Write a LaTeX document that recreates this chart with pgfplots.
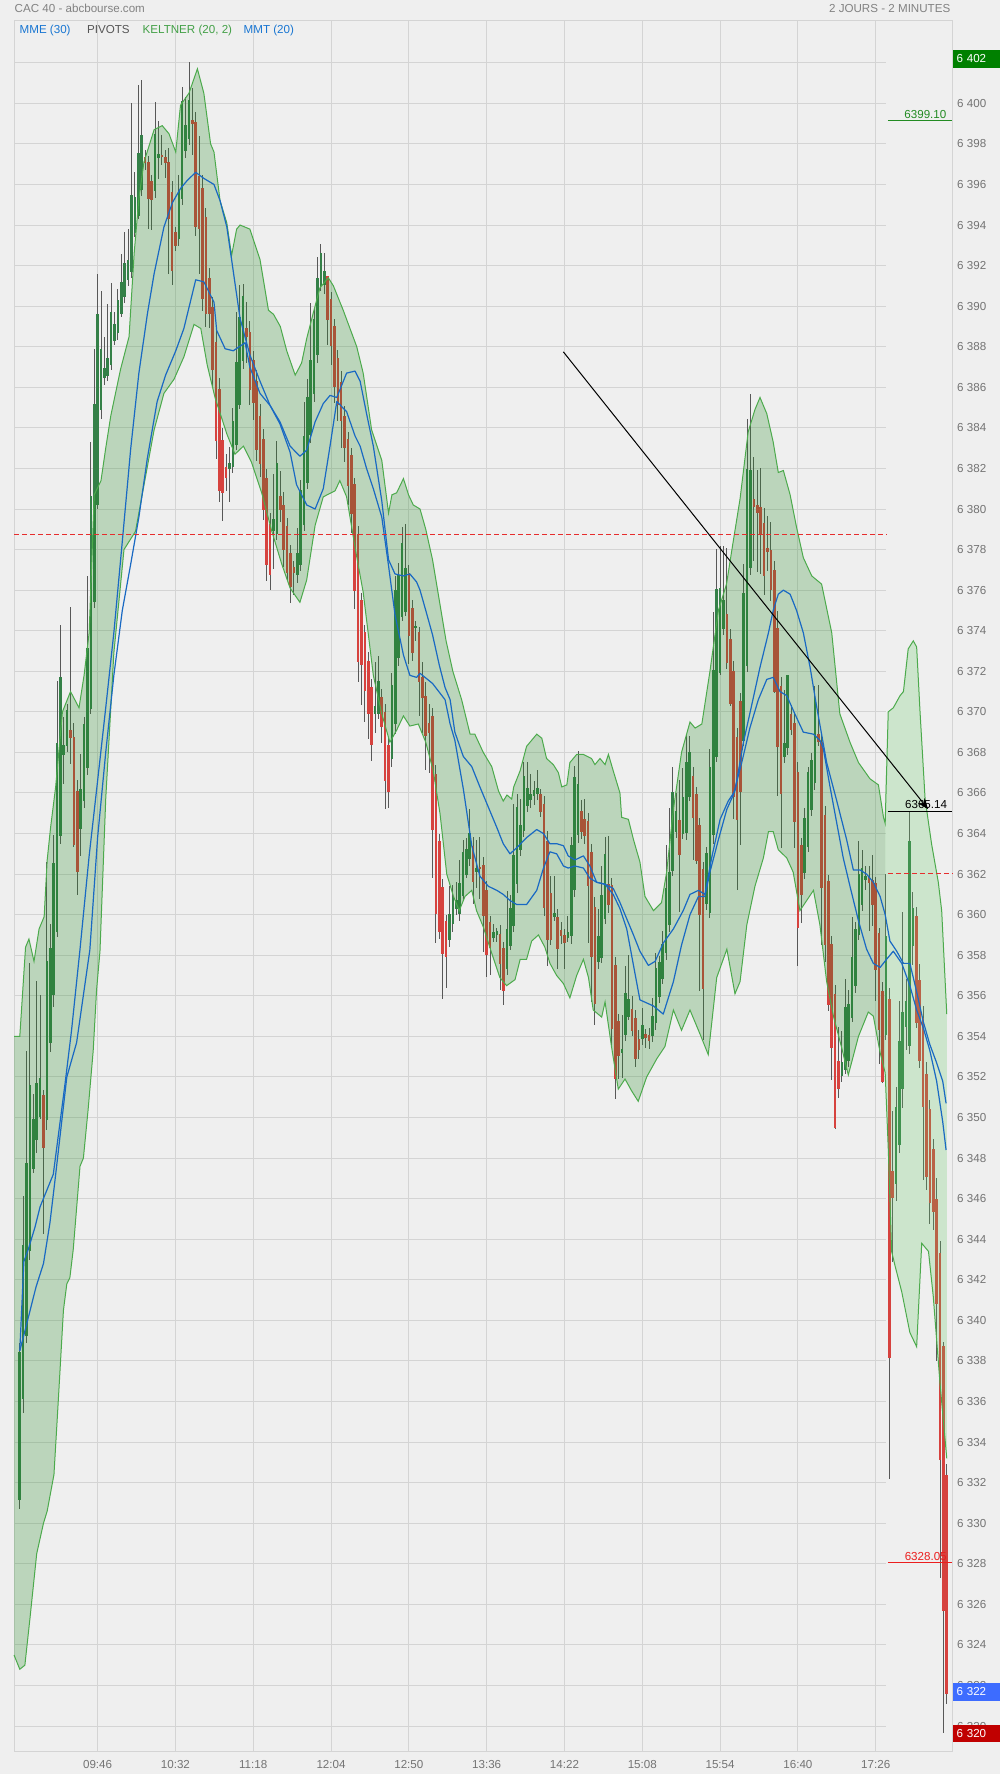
\documentclass[border=0pt]{standalone}
\usepackage{fontspec}
\setmainfont{Liberation Sans}
\usepackage{pgfplots}
\pgfplotsset{compat=1.18}
\usepackage{pgfplotstable}
\usetikzlibrary{arrows.meta}

\definecolor{bg}{RGB}{239,239,239}
\definecolor{gridc}{RGB}{212,212,212}
\definecolor{upc}{RGB}{52,128,72}
\definecolor{dnc}{RGB}{214,66,62}
\definecolor{wickc}{RGB}{88,88,88}
\definecolor{bandc}{RGB}{39,139,39}
\definecolor{bandtwo}{RGB}{100,200,100}
\definecolor{bandline}{RGB}{76,170,76}
\definecolor{mablue}{RGB}{25,105,195}
\definecolor{pivred}{RGB}{230,45,45}
\definecolor{txtgray}{RGB}{115,115,115}
\definecolor{hdrgray}{RGB}{130,130,130}
\definecolor{lblue}{RGB}{25,118,210}
\definecolor{lgreen}{RGB}{67,160,71}
\definecolor{pivgray}{RGB}{85,85,85}
\definecolor{boxgreen}{RGB}{0,128,0}
\definecolor{boxblue}{RGB}{61,108,255}
\definecolor{boxred}{RGB}{192,0,0}
\definecolor{lblgreen}{RGB}{34,139,34}
\definecolor{lblred}{RGB}{235,30,30}

\newcommand{\fs}{\fontsize{5.8pt}{7pt}\selectfont}

\pgfplotstableread{
i o h l c
0 6331.2 6339.0 6330.8 6338.5
1 6336.1 6346.2 6335.5 6343.7
2 6339.3 6353.4 6339.0 6347.8
3 6343.5 6357.6 6343.0 6351.7
4 6347.6 6351.2 6347.3 6350.1
5 6348.9 6356.9 6348.4 6351.7
6 6350.2 6356.1 6350.0 6352.1
8 6349.9 6362.7 6349.5 6357.7
9 6353.7 6359.5 6353.2 6358.4
10 6356.0 6364.0 6355.5 6362.5
11 6359.3 6371.6 6359.0 6368.6
12 6364.0 6374.3 6363.5 6371.8
13 6368.0 6369.8 6366.5 6368.5
14 6368.4 6370.4 6368.0 6370.2
18 6364.3 6368.0 6363.0 6366.3
19 6365.6 6369.8 6365.3 6369.4
20 6367.3 6376.8 6367.0 6373.2
21 6370.2 6383.4 6370.0 6380.7
22 6375.5 6388.0 6375.2 6385.3
23 6380.2 6391.6 6380.0 6389.6
24 6385.0 6390.9 6384.6 6388.0
25 6386.5 6388.6 6386.2 6387.0
26 6386.7 6390.2 6386.4 6387.6
27 6387.2 6391.3 6387.0 6389.8
28 6388.4 6389.8 6388.2 6389.2
29 6388.8 6391.0 6388.5 6390.4
30 6389.7 6392.6 6389.5 6391.3
31 6390.5 6393.8 6390.3 6392.2
32 6391.3 6393.8 6391.0 6392.3
33 6391.7 6400.1 6391.5 6395.5
34 6393.7 6396.7 6393.5 6395.5
35 6394.6 6400.9 6394.3 6397.7
36 6395.8 6401.2 6395.5 6398.5
40 6395.8 6400.2 6395.5 6398.6
41 6397.3 6399.2 6396.3 6397.5
47 6393.4 6396.5 6393.0 6395.8
48 6395.4 6400.8 6395.0 6400.2
49 6397.7 6400.3 6397.3 6399.0
50 6398.4 6402.1 6398.0 6400.3
62 6382.0 6383.1 6380.4 6382.3
63 6382.2 6385.0 6381.8 6384.5
64 6383.2 6389.7 6382.9 6387.3
65 6385.3 6391.1 6385.0 6389.6
66 6387.4 6391.2 6387.0 6390.6
75 6379.0 6381.8 6377.1 6379.6
76 6378.8 6383.4 6378.5 6382.3
82 6376.8 6379.2 6376.5 6377.9
83 6377.3 6381.5 6377.0 6381.0
84 6379.2 6385.4 6379.0 6383.6
85 6381.4 6386.4 6381.0 6385.6
86 6383.7 6390.3 6383.4 6387.4
87 6385.7 6390.0 6385.4 6389.4
88 6387.6 6392.5 6387.3 6391.4
89 6391.1 6393.1 6390.8 6392.7
90 6391.2 6392.6 6390.6 6391.9
105 6370.0 6372.5 6369.0 6370.4
106 6370.0 6372.8 6369.7 6371.6
110 6367.8 6372.0 6367.4 6371.4
111 6369.4 6376.8 6369.0 6376.0
112 6372.7 6377.5 6372.4 6376.8
113 6374.8 6379.1 6374.5 6378.4
114 6375.0 6379.2 6374.7 6377.2
117 6374.2 6374.6 6373.6 6374.3
127 6358.8 6361.4 6358.4 6360.1
128 6359.6 6361.6 6359.3 6360.9
129 6360.4 6361.6 6360.0 6360.8
130 6360.1 6362.8 6359.8 6361.6
131 6361.0 6363.7 6360.7 6363.2
132 6362.1 6363.8 6361.8 6363.4
133 6362.8 6365.3 6362.5 6364.1
135 6362.2 6363.8 6361.4 6362.4
140 6358.9 6359.6 6358.7 6359.2
141 6359.0 6359.4 6358.7 6359.2
144 6357.4 6361.2 6357.1 6359.4
145 6358.6 6361.0 6358.3 6360.5
146 6359.5 6365.5 6359.2 6363.0
147 6361.5 6366.1 6361.2 6365.3
148 6363.3 6365.8 6363.0 6364.5
149 6364.2 6367.6 6363.9 6366.9
150 6365.4 6367.6 6365.1 6366.3
151 6365.8 6367.1 6365.4 6366.1
152 6365.9 6366.7 6365.5 6366.2
153 6366.0 6367.2 6365.7 6366.3
158 6360.0 6361.9 6359.7 6360.2
162 6358.9 6359.9 6358.6 6359.2
163 6359.0 6364.0 6358.7 6363.5
164 6361.2 6367.4 6360.9 6366.8
165 6364.0 6368.2 6363.7 6366.5
171 6357.7 6360.4 6357.4 6359.0
172 6358.0 6362.5 6357.7 6361.1
173 6359.9 6363.9 6359.6 6363.1
178 6353.3 6355.1 6352.0 6353.5
179 6354.1 6357.5 6353.8 6356.2
180 6355.1 6358.0 6354.8 6356.0
184 6354.0 6355.5 6353.7 6354.7
187 6354.1 6356.0 6353.8 6355.1
188 6354.7 6358.2 6354.4 6357.4
189 6356.0 6358.0 6355.7 6357.7
190 6357.0 6359.3 6356.7 6358.7
191 6358.2 6363.6 6357.9 6361.4
192 6359.5 6365.3 6359.2 6362.1
193 6362.2 6367.3 6361.9 6366.1
194 6364.2 6366.1 6363.9 6365.2
196 6364.1 6367.3 6363.8 6365.9
197 6364.1 6369.0 6363.8 6367.6
198 6365.9 6368.8 6365.6 6368.1
203 6360.6 6363.4 6360.3 6363.1
204 6360.2 6368.2 6359.9 6367.4
205 6363.9 6375.0 6363.6 6372.0
206 6367.9 6378.1 6367.6 6376.2
207 6372.1 6378.2 6371.8 6376.3
208 6374.2 6378.3 6373.9 6375.6
214 6368.7 6377.4 6368.4 6376.0
215 6372.3 6384.5 6372.0 6382.0
216 6377.2 6385.8 6376.9 6382.0
226 6367.9 6371.2 6367.6 6368.6
227 6368.2 6371.8 6367.9 6371.8
232 6362.1 6365.3 6361.8 6364.8
233 6363.5 6367.4 6363.2 6367.2
234 6365.2 6368.0 6364.9 6367.7
235 6366.5 6371.3 6366.2 6370.7
243 6352.1 6354.3 6351.8 6352.8
244 6352.5 6356.9 6352.2 6355.6
245 6352.9 6356.4 6352.6 6355.7
246 6355.0 6359.9 6354.7 6358.0
247 6356.5 6359.7 6356.2 6359.3
248 6359.1 6363.7 6358.8 6362.1
249 6360.6 6363.3 6360.3 6362.4
250 6361.8 6362.5 6361.3 6362.0
256 6354.2 6362.0 6353.8 6359.1
259 6346.7 6351.6 6346.0 6350.5
260 6348.7 6355.8 6348.3 6353.8
261 6351.5 6360.2 6350.5 6355.3
262 6354.5 6357.0 6353.5 6355.8
263 6353.6 6365.1 6353.2 6363.7
264 6358.6 6361.1 6357.5 6360.5
}\upc

\pgfplotstableread{
i o h l c
7 6351.2 6351.5 6344.4 6348.6
15 6369.2 6375.2 6367.5 6368.8
16 6368.9 6369.5 6363.4 6363.6
17 6366.2 6366.8 6361.1 6362.2
37 6397.4 6397.8 6396.8 6397.1
38 6397.1 6397.5 6393.9 6395.3
39 6396.2 6396.6 6393.9 6395.3
42 6397.5 6398.5 6397.0 6397.4
43 6397.4 6397.7 6396.3 6397.1
44 6397.2 6397.8 6391.6 6394.4
45 6395.8 6396.2 6391.1 6391.9
46 6393.7 6394.0 6392.8 6393.0
51 6399.3 6400.8 6397.5 6399.1
52 6399.2 6399.6 6393.5 6394.0
53 6396.5 6398.4 6391.6 6393.9
54 6396.0 6396.5 6389.8 6390.5
55 6394.6 6395.0 6389.1 6389.8
56 6391.5 6392.0 6389.0 6389.7
57 6390.0 6390.5 6386.0 6386.9
58 6388.4 6389.0 6382.5 6383.5
59 6386.0 6386.5 6380.4 6381.0
60 6383.5 6384.0 6379.4 6380.9
61 6382.2 6382.8 6381.0 6381.7
67 6389.0 6390.2 6387.2 6388.6
68 6388.9 6389.3 6385.2 6386.0
69 6387.4 6387.9 6384.5 6385.3
70 6386.4 6386.9 6382.4 6383.0
71 6384.7 6385.2 6381.6 6382.3
72 6383.5 6384.0 6379.5 6380.0
73 6381.6 6382.0 6376.5 6377.3
74 6379.4 6379.8 6376.0 6376.9
77 6380.7 6382.0 6379.5 6380.0
78 6380.3 6380.8 6377.1 6378.1
79 6379.2 6379.6 6376.5 6376.9
80 6377.9 6378.3 6375.4 6376.2
81 6377.1 6377.5 6375.8 6376.8
91 6391.5 6391.6 6388.2 6389.3
92 6390.4 6390.8 6387.2 6388.1
93 6389.0 6389.4 6385.3 6386.0
94 6387.5 6387.9 6384.4 6385.2
95 6386.4 6386.8 6383.0 6384.5
96 6384.7 6385.1 6382.3 6383.1
97 6383.5 6383.9 6380.3 6381.2
98 6382.7 6383.1 6378.9 6379.8
99 6381.3 6381.7 6375.2 6376.0
100 6378.8 6379.2 6371.5 6372.5
101 6375.6 6376.0 6370.5 6372.4
102 6374.0 6374.4 6369.6 6371.1
103 6372.6 6373.0 6368.7 6370.0
104 6371.3 6371.7 6367.7 6368.4
107 6370.8 6371.2 6368.5 6369.3
108 6370.0 6370.4 6365.2 6366.6
109 6368.4 6368.8 6365.3 6366.1
115 6376.9 6377.3 6372.4 6373.8
116 6375.2 6375.6 6372.6 6373.0
118 6374.0 6374.4 6370.0 6371.5
119 6371.8 6372.5 6369.0 6370.8
120 6370.8 6371.5 6367.2 6368.8
121 6369.5 6370.5 6367.1 6369.0
122 6369.9 6370.3 6361.9 6364.3
123 6367.1 6367.5 6358.7 6360.2
124 6363.7 6364.1 6358.9 6359.2
125 6361.4 6361.8 6355.9 6358.1
126 6359.7 6360.1 6356.5 6357.9
134 6363.4 6363.8 6360.5 6361.6
136 6362.5 6364.0 6360.9 6362.4
137 6362.5 6362.9 6358.2 6360.0
138 6361.2 6361.6 6356.9 6358.0
139 6359.6 6360.0 6357.1 6358.3
142 6359.2 6359.5 6356.3 6357.7
143 6358.4 6358.8 6355.7 6356.3
154 6366.1 6366.3 6364.9 6365.2
155 6365.6 6366.0 6360.1 6360.5
156 6363.8 6364.2 6357.5 6358.9
157 6361.1 6361.9 6358.5 6358.8
159 6360.0 6360.4 6357.4 6358.4
160 6359.3 6359.7 6358.6 6359.0
161 6359.0 6359.4 6357.4 6358.6
166 6365.2 6365.8 6363.9 6364.2
167 6364.8 6365.8 6363.6 6364.0
168 6364.7 6365.1 6358.7 6361.5
169 6363.1 6363.5 6355.7 6357.9
170 6360.5 6360.9 6354.6 6355.7
174 6361.5 6363.9 6360.1 6360.5
175 6361.5 6361.9 6353.7 6354.4
176 6357.6 6358.0 6351.0 6352.0
177 6354.8 6355.2 6352.0 6353.1
181 6355.5 6356.0 6354.0 6354.4
182 6355.0 6355.4 6352.6 6353.0
183 6354.0 6354.4 6353.0 6353.5
185 6354.2 6354.5 6353.6 6354.0
186 6354.2 6354.5 6353.5 6353.9
195 6364.7 6366.7 6360.2 6363.0
199 6367.0 6367.4 6362.8 6364.9
200 6366.0 6366.4 6362.6 6362.7
201 6364.4 6364.8 6356.3 6360.0
202 6362.2 6362.6 6353.8 6356.3
209 6374.9 6378.2 6372.2 6372.5
210 6373.8 6374.2 6370.4 6370.6
211 6372.1 6372.5 6364.7 6365.9
212 6368.9 6369.3 6361.3 6364.8
213 6370.6 6371.0 6363.5 6366.1
217 6380.6 6382.7 6377.6 6380.2
218 6380.3 6382.0 6377.0 6379.9
219 6380.1 6382.1 6376.9 6378.7
220 6379.4 6380.1 6375.8 6376.8
221 6378.2 6379.7 6377.0 6378.0
222 6378.0 6379.5 6375.6 6376.0
223 6377.2 6377.6 6371.1 6371.2
224 6374.2 6375.0 6365.9 6368.3
225 6371.3 6371.7 6363.3 6366.0
228 6370.0 6370.4 6368.9 6369.2
229 6369.6 6370.0 6363.4 6364.7
230 6367.2 6367.6 6357.5 6359.5
231 6363.4 6363.8 6359.6 6360.9
236 6369.0 6371.3 6368.3 6368.6
237 6368.6 6369.0 6358.6 6361.4
238 6365.0 6365.4 6357.7 6358.6
239 6361.7 6362.1 6355.4 6355.6
240 6358.7 6359.1 6352.0 6353.6
241 6356.2 6356.6 6349.5 6349.6
242 6352.9 6354.5 6351.0 6351.5
251 6361.9 6362.5 6359.3 6361.6
252 6361.8 6363.0 6359.5 6360.6
253 6361.6 6361.9 6355.8 6357.3
254 6359.1 6359.5 6352.8 6354.3
255 6356.4 6356.8 6351.8 6351.9
257 6356.0 6356.5 6332.3 6338.3
258 6347.4 6350.3 6342.9 6346.1
265 6360.0 6360.5 6354.5 6354.7
266 6356.9 6357.6 6352.5 6352.9
267 6354.9 6355.5 6346.9 6350.5
268 6352.2 6352.8 6346.5 6347.1
269 6350.5 6351.0 6344.9 6345.9
270 6348.5 6349.0 6344.5 6345.4
271 6346.1 6347.0 6338.0 6340.9
272 6343.4 6344.0 6327.4 6333.2
273 6338.9 6339.0 6319.7 6325.8
274 6332.5 6333.0 6321.2 6321.7
}\dnc

\begin{document}
\begin{tikzpicture}
\fill[bg] (0,0) rectangle (500pt,887pt);
\begin{axis}[
  at={(7pt,11.5pt)}, anchor=south west,
  scale only axis, width=469pt, height=865pt,
  xmin=-1.714, xmax=275.55, ymin=6318.77, ymax=6404.06,
  clip=false,
  axis line style={draw=gridc, line width=0.5pt},
  xmajorgrids=true, major grid style={draw=gridc, line width=0.5pt},
  xtick={23,46,...,253},
  xticklabels={09:46,10:32,11:18,12:04,12:50,13:36,14:22,15:08,15:54,16:40,17:26},
  ytick={6320,6322,...,6400},
  yticklabel pos=right,
  scaled y ticks=false,
  tick style={draw=none},
  /pgf/number format/assume math mode=true,
  /pgf/number format/1000 sep={\ },
  yticklabel style={anchor=west, inner sep=0pt, xshift=2.4pt, font=\fs, text=txtgray},
  xticklabel style={anchor=base, inner sep=0pt, yshift=-8.5pt, font=\fs, text=txtgray},
  candle/.style={draw=none, mark=none, error bars/.cd, y dir=both, y explicit, error mark=none},
]
% horizontal grid (stops at day boundary)
\pgfplotsinvokeforeach{6320,6322,...,6402}{\draw[gridc, line width=0.5pt] (axis cs:-1.714,#1) -- (axis cs:255.9,#1);}

% wicks
\addplot[candle, error bar style={draw=wickc, line width=0.45pt}]
  table[x=i, y expr={(\thisrow{h}+\thisrow{l})/2}, y error expr={(\thisrow{h}-\thisrow{l})/2}] {\upc};
\addplot[candle, error bar style={draw=wickc, line width=0.45pt}]
  table[x=i, y expr={(\thisrow{h}+\thisrow{l})/2}, y error expr={(\thisrow{h}-\thisrow{l})/2}] {\dnc};
% bodies
\addplot[candle, error bar style={draw=upc, line width=1.3pt}]
  table[x=i, y expr={(\thisrow{o}+\thisrow{c})/2}, y error expr={max(abs(\thisrow{c}-\thisrow{o})/2,0.05)}] {\upc};
\addplot[candle, error bar style={draw=dnc, line width=1.3pt}]
  table[x=i, y expr={(\thisrow{o}+\thisrow{c})/2}, y error expr={max(abs(\thisrow{c}-\thisrow{o})/2,0.05)}] {\dnc};

% Keltner band, day 1
\addplot[fill=bandc, fill opacity=0.26, draw=none] coordinates {
(-1.7,6354.0) (0,6354.0) (1.7,6358.4) (2.7,6358.8) (4.2,6357.7) (5.7,6359.3) (7.2,6359.9) (8.1,6362.7) (9.1,6364.3) (10.6,6366.3) (12.6,6370.0) (15,6371.0) (17.5,6370.2) (19,6371.8) (20.5,6373.9) (22,6380.7) (24,6381.4) (25.4,6383.0) (26.9,6384.6) (29.8,6386.9) (32.3,6388.5) (33.8,6392.6) (35.2,6395.3) (36.7,6397.1) (39.7,6398.7) (42.1,6398.9) (44.1,6398.5) (46.1,6397.6) (47.5,6399.9) (50,6400.5) (52.5,6401.7) (54.4,6400.5) (56.4,6398.0) (57.4,6397.6) (59.2,6395.2) (61.2,6394.1) (62.6,6392.5) (64.1,6393.8) (65.1,6394.0) (68,6393.8) (71,6392.3) (73.5,6389.8) (75,6389.6) (77,6389.0) (78.9,6387.8) (81.4,6386.6) (83.3,6387.2) (84.8,6388.4) (86.8,6389.7) (88.7,6390.9) (91.2,6391.4) (92.7,6391.0) (95.6,6389.8) (99.6,6388.0) (101.5,6386.7) (104,6383.9) (107,6382.4) (109,6379.8) (110,6380.7) (111.4,6380.8) (113.4,6381.5) (114.9,6380.7) (116.3,6380.2) (118.3,6380.0) (120,6379.0) (122,6377.5) (124,6375.5) (126,6373.5) (128,6372.0) (130.6,6370.6) (133.1,6368.9) (134.5,6368.9) (137,6368.0) (139.5,6367.3) (141.5,6366.1) (142.9,6365.6) (144,6365.9) (145.4,6365.7) (146,6366.3) (147.9,6367.1) (149.8,6368.3) (151.3,6368.6) (152.8,6368.9) (154.3,6368.7) (155.7,6367.7) (157.7,6367.4) (159.2,6367.0) (160.2,6366.3) (161.7,6366.4) (162.6,6367.5) (164.6,6367.9) (166.6,6367.9) (169,6367.7) (170,6367.4) (171.5,6367.7) (173,6367.4) (174,6367.9) (175.4,6367.1) (177.4,6366.0) (177.9,6364.8) (179.9,6364.7) (181.4,6363.7) (183.3,6362.6) (184.8,6360.9) (187.3,6360.2) (189.7,6360.6) (191.2,6362.1) (193.2,6365.2) (195.6,6368.0) (198.1,6369.5) (199.6,6369.2) (201.6,6369.4) (204,6372.0) (206.5,6375.0) (208.9,6376.3) (210.4,6377.9) (212.9,6380.5) (215.3,6383.8) (217.3,6384.9) (218.8,6385.5) (220.8,6384.7) (222.7,6383.3) (224.2,6381.8) (225.7,6381.9) (227.7,6380.7) (229.6,6379.1) (231.6,6377.6) (234.1,6376.7) (237,6376.3) (240,6373.9) (242.4,6369.9) (245.4,6368.5) (247.9,6367.5) (251.3,6366.7) (253.8,6366.4) (255.3,6364.8) (255.8,6364.5)
(255.8,6352.2) (254.3,6353.2) (252.3,6355.0) (250.8,6355.2) (247.9,6354.0) (244.9,6352.1) (243,6353.4) (240.5,6355.0) (238.5,6356.7) (236.5,6359.5) (234.6,6361.2) (232.6,6360.7) (230.6,6360.2) (228.6,6362.1) (226.7,6362.8) (224.2,6363.2) (222.7,6364.1) (221.3,6364.1) (219.8,6362.8) (217.3,6361.4) (214.9,6359.5) (212.9,6356.7) (211.4,6356.1) (209,6358.3) (206,6356.9) (203.5,6353.1) (201.1,6354.1) (198.1,6355.3) (195.6,6354.3) (193.2,6355.3) (190.7,6353.5) (188.3,6352.9) (185.3,6352.0) (182.8,6350.8) (180.9,6351.3) (178.9,6351.9) (176.9,6351.4) (174.9,6353.5) (173,6355.7) (172,6354.95) (169.5,6355.3) (168.1,6356.9) (166.6,6357.8) (164.6,6357.0) (162.6,6355.9) (160.7,6356.6) (158.7,6357.0) (156.7,6357.6) (155.2,6358.4) (153.3,6359.0) (151.3,6358.7) (149.8,6357.8) (147.9,6357.8) (146.4,6356.8) (143.9,6356.5) (141.9,6356.9) (139.5,6358.1) (137,6359.4) (135,6360.2) (133.6,6361.2) (131.6,6360.9) (129.9,6360.2) (128.2,6360.9) (126.2,6362.0) (124.2,6365.0) (122.2,6367.1) (120,6368.5) (117.8,6369.4) (115.3,6369.3) (113.4,6369.8) (111.4,6369.1) (109.4,6368.5) (107,6369.9) (104.5,6371.8) (101.5,6375.9) (99.1,6378.1) (96.6,6380.6) (94.6,6381.4) (93.2,6380.9) (89.7,6380.6) (87.3,6379.2) (84.8,6376.5) (82.8,6375.4) (79.9,6376.1) (77.4,6377.3) (74.5,6378.9) (71.5,6380.8) (68.5,6382.3) (66.1,6383.1) (63.6,6382.7) (61.2,6383.7) (57.7,6385.5) (55.4,6387.1) (53.5,6388.9) (51.5,6389.1) (48.5,6387.5) (45.6,6386.4) (42.6,6385.7) (39.7,6383.9) (34.2,6378.9) (30.8,6378.0) (27.8,6372.9) (25.4,6365.7) (23.7,6358.2) (22.7,6356.3) (21.7,6353.3) (20.2,6350.4) (18.8,6348.0) (17.8,6347.6) (15.8,6343.5) (14.8,6342.1) (13.9,6341.8) (12.9,6340.5) (11.4,6336.1) (10.1,6332.4) (8.1,6330.6) (7,6330.0) (5,6328.5) (3,6325.3) (1.5,6323.0) (0,6322.8) (-1.7,6323.5)
} -- cycle;
% Keltner band, day 2
\addplot[fill=bandtwo, fill opacity=0.25, draw=none] coordinates {
(255.8,6366.0) (256.7,6370.0) (258.2,6370.2) (260.2,6370.8) (261.2,6371.0) (262.6,6373.1) (264.1,6373.5) (265.1,6373.2) (266.1,6370.0) (267.6,6365.7) (269.5,6363.5) (271.5,6361.6) (272.5,6360.2) (274,6355.1)
(274,6333.2) (272,6336.9) (270,6341.2) (268.6,6343.4) (266.6,6343.8) (265.1,6338.7) (263.1,6339.4) (260.7,6341.4) (258.7,6342.7) (257.7,6343.4) (256.7,6348.5) (255.8,6352.0)
} -- cycle;
% band borders
\addplot[bandline, line width=0.5pt] coordinates {
(-1.7,6354.0) (0,6354.0) (1.7,6358.4) (2.7,6358.8) (4.2,6357.7) (5.7,6359.3) (7.2,6359.9) (8.1,6362.7) (9.1,6364.3) (10.6,6366.3) (12.6,6370.0) (15,6371.0) (17.5,6370.2) (19,6371.8) (20.5,6373.9) (22,6380.7) (24,6381.4) (25.4,6383.0) (26.9,6384.6) (29.8,6386.9) (32.3,6388.5) (33.8,6392.6) (35.2,6395.3) (36.7,6397.1) (39.7,6398.7) (42.1,6398.9) (44.1,6398.5) (46.1,6397.6) (47.5,6399.9) (50,6400.5) (52.5,6401.7) (54.4,6400.5) (56.4,6398.0) (57.4,6397.6) (59.2,6395.2) (61.2,6394.1) (62.6,6392.5) (64.1,6393.8) (65.1,6394.0) (68,6393.8) (71,6392.3) (73.5,6389.8) (75,6389.6) (77,6389.0) (78.9,6387.8) (81.4,6386.6) (83.3,6387.2) (84.8,6388.4) (86.8,6389.7) (88.7,6390.9) (91.2,6391.4) (92.7,6391.0) (95.6,6389.8) (99.6,6388.0) (101.5,6386.7) (104,6383.9) (107,6382.4) (109,6379.8) (110,6380.7) (111.4,6380.8) (113.4,6381.5) (114.9,6380.7) (116.3,6380.2) (118.3,6380.0) (120,6379.0) (122,6377.5) (124,6375.5) (126,6373.5) (128,6372.0) (130.6,6370.6) (133.1,6368.9) (134.5,6368.9) (137,6368.0) (139.5,6367.3) (141.5,6366.1) (142.9,6365.6) (144,6365.9) (145.4,6365.7) (146,6366.3) (147.9,6367.1) (149.8,6368.3) (151.3,6368.6) (152.8,6368.9) (154.3,6368.7) (155.7,6367.7) (157.7,6367.4) (159.2,6367.0) (160.2,6366.3) (161.7,6366.4) (162.6,6367.5) (164.6,6367.9) (166.6,6367.9) (169,6367.7) (170,6367.4) (171.5,6367.7) (173,6367.4) (174,6367.9) (175.4,6367.1) (177.4,6366.0) (177.9,6364.8) (179.9,6364.7) (181.4,6363.7) (183.3,6362.6) (184.8,6360.9) (187.3,6360.2) (189.7,6360.6) (191.2,6362.1) (193.2,6365.2) (195.6,6368.0) (198.1,6369.5) (199.6,6369.2) (201.6,6369.4) (204,6372.0) (206.5,6375.0) (208.9,6376.3) (210.4,6377.9) (212.9,6380.5) (215.3,6383.8) (217.3,6384.9) (218.8,6385.5) (220.8,6384.7) (222.7,6383.3) (224.2,6381.8) (225.7,6381.9) (227.7,6380.7) (229.6,6379.1) (231.6,6377.6) (234.1,6376.7) (237,6376.3) (240,6373.9) (242.4,6369.9) (245.4,6368.5) (247.9,6367.5) (251.3,6366.7) (253.8,6366.4) (255.3,6364.8) (255.8,6364.5)
(256.7,6370.0) (258.2,6370.2) (260.2,6370.8) (261.2,6371.0) (262.6,6373.1) (264.1,6373.5) (265.1,6373.2) (266.1,6370.0) (267.6,6365.7) (269.5,6363.5) (271.5,6361.6) (272.5,6360.2) (274,6355.1)
};
\addplot[bandline, line width=0.5pt] coordinates {
(-1.7,6323.5) (0,6322.8) (1.5,6323.0) (3,6325.3) (5,6328.5) (7,6330.0) (8.1,6330.6) (10.1,6332.4) (11.4,6336.1) (12.9,6340.5) (13.9,6341.8) (14.8,6342.1) (15.8,6343.5) (17.8,6347.6) (18.8,6348.0) (20.2,6350.4) (21.7,6353.3) (22.7,6356.3) (23.7,6358.2) (25.4,6365.7) (27.8,6372.9) (30.8,6378.0) (34.2,6378.9) (39.7,6383.9) (42.6,6385.7) (45.6,6386.4) (48.5,6387.5) (51.5,6389.1) (53.5,6388.9) (55.4,6387.1) (57.7,6385.5) (61.2,6383.7) (63.6,6382.7) (66.1,6383.1) (68.5,6382.3) (71.5,6380.8) (74.5,6378.9) (77.4,6377.3) (79.9,6376.1) (82.8,6375.4) (84.8,6376.5) (87.3,6379.2) (89.7,6380.6) (93.2,6380.9) (94.6,6381.4) (96.6,6380.6) (99.1,6378.1) (101.5,6375.9) (104.5,6371.8) (107,6369.9) (109.4,6368.5) (111.4,6369.1) (113.4,6369.8) (115.3,6369.3) (117.8,6369.4) (120,6368.5) (122.2,6367.1) (124.2,6365.0) (126.2,6362.0) (128.2,6360.9) (129.9,6360.2) (131.6,6360.9) (133.6,6361.2) (135,6360.2) (137,6359.4) (139.5,6358.1) (141.9,6356.9) (143.9,6356.5) (146.4,6356.8) (147.9,6357.8) (149.8,6357.8) (151.3,6358.7) (153.3,6359.0) (155.2,6358.4) (156.7,6357.6) (158.7,6357.0) (160.7,6356.6) (162.6,6355.9) (164.6,6357.0) (166.6,6357.8) (168.1,6356.9) (169.5,6355.3) (172,6354.95) (173,6355.7) (174.9,6353.5) (176.9,6351.4) (178.9,6351.9) (180.9,6351.3) (182.8,6350.8) (185.3,6352.0) (188.3,6352.9) (190.7,6353.5) (193.2,6355.3) (195.6,6354.3) (198.1,6355.3) (201.1,6354.1) (203.5,6353.1) (206,6356.9) (209,6358.3) (211.4,6356.1) (212.9,6356.7) (214.9,6359.5) (217.3,6361.4) (219.8,6362.8) (221.3,6364.1) (222.7,6364.1) (224.2,6363.2) (226.7,6362.8) (228.6,6362.1) (230.6,6360.2) (232.6,6360.7) (234.6,6361.2) (236.5,6359.5) (238.5,6356.7) (240.5,6355.0) (243,6353.4) (244.9,6352.1) (247.9,6354.0) (250.8,6355.2) (252.3,6355.0) (254.3,6353.2) (255.8,6352.2)
(256.7,6348.5) (257.7,6343.4) (258.7,6342.7) (260.7,6341.4) (263.1,6339.4) (265.1,6338.7) (266.6,6343.8) (268.6,6343.4) (270,6341.2) (272,6336.9) (274,6333.2)
};

% moving averages
\addplot[mablue, line width=0.6pt, line join=round] coordinates {
(0,6338.5) (1.2,6342.9) (2.5,6343.5) (4.5,6344.6) (6,6345.6) (9.9,6347.2) (13.4,6351.7) (15.3,6354.3) (17.8,6358.3) (20.5,6362.9) (23,6366.6) (25.4,6370.2) (27.8,6373.9) (30.3,6378.4) (32.8,6383.0) (35.2,6386.7) (37.7,6389.6) (39.7,6391.6) (42.6,6393.9) (45.1,6395.1) (47.5,6395.8) (49.5,6396.2) (52,6396.6) (54.4,6396.3) (57.4,6396.0) (59.2,6395.2) (61.2,6393.9) (62.6,6392.3) (65.1,6389.4) (68,6387.6) (71,6386.3) (74,6385.1) (76.9,6384.3) (79.9,6383.1) (82.8,6382.6) (84.8,6382.9) (87.3,6384.3) (89.7,6385.2) (91.7,6385.6) (93.7,6385.5) (96.6,6386.7) (99.1,6386.8) (100.6,6386.3) (102.5,6384.7) (104.5,6383.1) (107,6380.4) (109,6377.5) (110.9,6376.8) (113.4,6376.7) (115.3,6376.8) (117.3,6376.4) (118.3,6376.0) (120,6375.0) (122,6373.8) (124,6372.3) (125.7,6371.2) (127.2,6370.6) (128.6,6369.0) (131.1,6367.8) (133.6,6367.3) (136,6366.3) (138.5,6365.3) (141,6364.3) (142.9,6363.5) (144.9,6363.0) (146.9,6363.3) (149.8,6363.8) (152.8,6364.2) (154.8,6364.0) (156.7,6363.5) (158.7,6363.5) (160.7,6363.4) (162.1,6362.9) (164.1,6362.7) (166.6,6362.9) (168.5,6362.4) (170.5,6361.6) (173,6361.5) (175.4,6361.3) (177.4,6360.6) (179.4,6359.8) (181.4,6359.0) (183.3,6358.2) (185.8,6357.5) (187.8,6357.7) (190.2,6358.6) (193.2,6359.3) (196.1,6360.2) (198.1,6361.0) (200.6,6361.2) (202.5,6361.0) (204.5,6362.8) (207,6364.7) (209.4,6365.6) (211.4,6366.1) (213.9,6368.5) (216.3,6370.3) (218.8,6372.2) (221.3,6373.9) (222.7,6375.0) (224.2,6375.8) (225.7,6376.0) (227.7,6375.8) (229.6,6375.0) (231.6,6373.9) (233.6,6372.2) (235.5,6370.3) (237,6368.9) (238.5,6367.5) (241.5,6365.6) (244.4,6363.7) (246.4,6362.2) (248.4,6362.2) (250.3,6362.0) (252.3,6361.6) (254.3,6360.9) (255.8,6360.0) (257.2,6358.7) (259.2,6358.2) (261.2,6357.6) (263.1,6357.6) (265.1,6356.2) (267.1,6354.7) (269,6353.6) (271,6352.7) (272.8,6351.8) (273.8,6350.7)
};
\addplot[mablue, line width=0.6pt, line join=round] coordinates {
(0,6338.5) (2,6339.8) (4.8,6341.65) (7,6342.8) (8.9,6344.8) (10.4,6346.9) (13.9,6352.0) (16.8,6353.7) (20.7,6358.25) (23,6363.8) (25.4,6368.0) (27.8,6371.8) (30.3,6375.0) (32.8,6377.3) (35.2,6379.6) (37.7,6382.5) (40.6,6385.3) (43.1,6386.6) (46.1,6387.8) (48.5,6388.9) (52,6391.3) (54.4,6391.2) (57.4,6390.2) (58.2,6388.8) (60.7,6387.9) (63.1,6387.8) (66.6,6388.2) (68,6387.0) (71,6385.7) (74,6385.1) (76.9,6384.2) (79.9,6382.8) (81.8,6381.2) (84.8,6380.2) (87.3,6380.0) (89.7,6381.0) (91.7,6383.1) (93.7,6385.3) (96.6,6384.8) (99.1,6383.6) (100.6,6383.1) (102.5,6382.0) (104.5,6381.0) (107,6379.6) (109,6377.2) (110.9,6374.8) (113.4,6372.8) (115.3,6371.8) (117.3,6371.7) (118.3,6371.9) (122,6371.4) (125.7,6370.6) (127.2,6369.4) (128.6,6368.6) (131.1,6366.2) (133.6,6363.4) (136,6361.9) (138.5,6361.4) (141,6361.2) (142.9,6361.0) (144.9,6360.7) (146.9,6360.5) (149.8,6360.5) (152.8,6361.2) (154.8,6362.3) (156.7,6363.1) (158.7,6363.0) (160.7,6362.4) (162.1,6362.3) (164.1,6362.4) (166.6,6362.3) (168.5,6361.8) (170.5,6361.6) (173,6361.5) (175.4,6361.0) (177.4,6360.3) (179.4,6359.3) (181.4,6357.5) (183.3,6355.8) (187.3,6355.5) (190.2,6355.1) (193.2,6356.7) (195.6,6358.5) (198.1,6360.0) (200.6,6360.9) (202.5,6360.9) (204,6362.1) (206.5,6363.7) (209,6365.2) (210.9,6365.9) (213.4,6367.5) (215.8,6369.2) (218.3,6370.6) (220.8,6371.6) (222.7,6371.7) (224.7,6371.0) (226.7,6370.8) (229.1,6369.9) (231.6,6369.0) (234.6,6368.9) (236.5,6368.6) (237.5,6368.2) (239.5,6366.3) (241.5,6364.5) (243.4,6362.8) (245.4,6361.4) (247.9,6359.7) (250.3,6358.3) (252.3,6357.6) (254.3,6357.4) (256.2,6357.8) (258.2,6358.2) (260.7,6357.6) (263.1,6356.5) (265.1,6355.3) (267.1,6354.4) (269,6353.3) (271,6351.8) (272.8,6349.8) (273.8,6348.4)
};

% pivots
\draw[pivred, line width=0.5pt, dash pattern=on 2.5pt off 1.5pt] (axis cs:-1.714,6378.75) -- (axis cs:256.3,6378.75);
\draw[pivred, line width=0.5pt, dash pattern=on 2.5pt off 1.5pt] (axis cs:256.6,6362.05) -- (axis cs:275.55,6362.05);

% trend line
\draw[black, line width=0.5pt, -{Stealth[length=5.5pt,width=4.2pt]}] (axis cs:160.66,6387.75) -- (axis cs:268.5,6365.2);

% value lines at right
\draw[lblgreen, line width=0.5pt] (axis cs:256.6,6399.13) -- (axis cs:275.55,6399.13);
\node[anchor=base east, inner sep=0pt, font=\fs, text=lblgreen, yshift=1.2pt] at (axis cs:274.0,6399.13) {6399.10};
\draw[black, line width=0.5pt] (axis cs:256.6,6365.11) -- (axis cs:275.55,6365.11);
\node[anchor=base east, inner sep=0pt, font=\fs, text=black, yshift=1.5pt] at (axis cs:274.2,6365.11) {6365.14};
\draw[lblred, line width=0.5pt] (axis cs:256.6,6328.04) -- (axis cs:275.55,6328.04);
\node[anchor=base east, inner sep=0pt, font=\fs, text=lblred, yshift=1.1pt] at (axis cs:274.1,6328.04) {6328.05};
\end{axis}

% header texts
\node[anchor=base west, inner sep=0pt, font=\fs, text=hdrgray] at (7.15pt,880.65pt) {CAC 40 - abcbourse.com};
\node[anchor=base east, inner sep=0pt, font=\fs, text=hdrgray] at (475.35pt,880.65pt) {2 JOURS - 2 MINUTES};
\node[anchor=base west, inner sep=0pt, font=\fs, text=lblue] at (9.65pt,870.35pt) {MME (30)};
\node[anchor=base west, inner sep=0pt, font=\fs, text=pivgray] at (43.35pt,870.35pt) {PIVOTS};
\node[anchor=base west, inner sep=0pt, font=\fs, text=lgreen] at (71.15pt,870.35pt) {KELTNER (20, 2)};
\node[anchor=base west, inner sep=0pt, font=\fs, text=lblue] at (121.65pt,870.35pt) {MMT (20)};

% boxed price labels
\node[fill=boxgreen, text=white, anchor=west, minimum height=8.85pt, text width=20.3pt, inner xsep=1.7pt, inner ysep=0pt, font=\fs, align=left] at (476.35pt,857.5pt) {6 402};
\node[fill=boxblue, text=white, anchor=west, minimum height=8.85pt, text width=20.3pt, inner xsep=1.7pt, inner ysep=0pt, font=\fs, align=left] at (476.35pt,41pt) {6 322};
\node[fill=boxred, text=white, anchor=west, minimum height=8.85pt, text width=20.3pt, inner xsep=1.7pt, inner ysep=0pt, font=\fs, align=left] at (476.35pt,20.3pt) {6 320};

\pgfresetboundingbox
\useasboundingbox (0,0) rectangle (500pt,887pt);
\end{tikzpicture}
\end{document}
